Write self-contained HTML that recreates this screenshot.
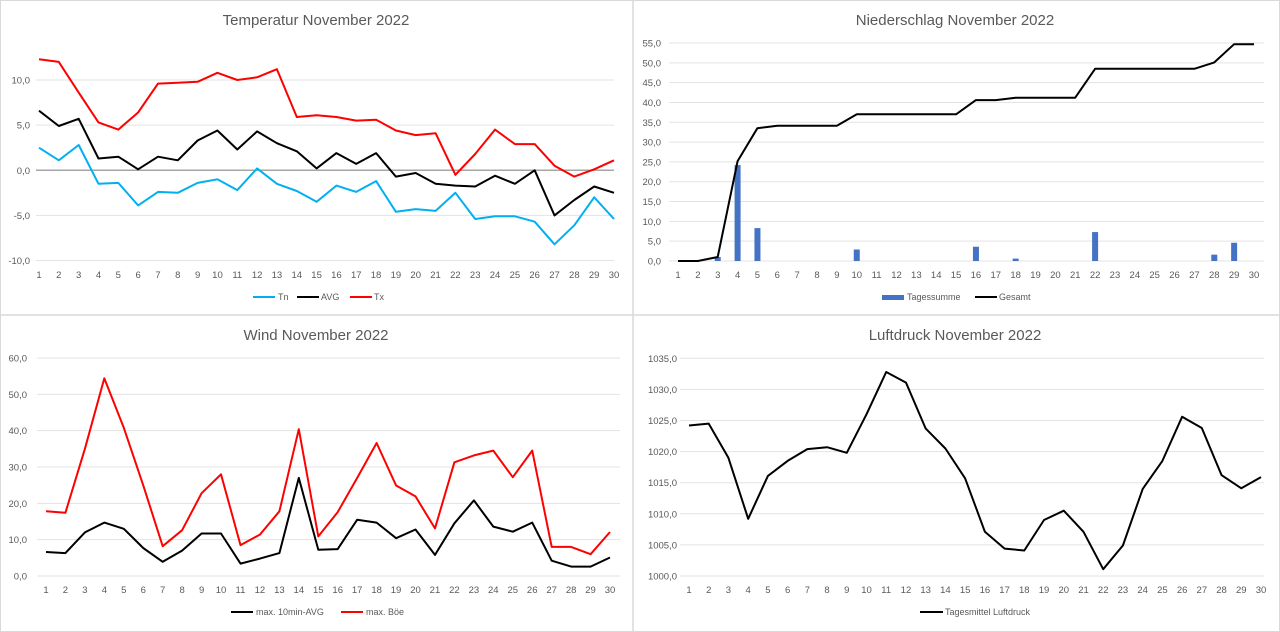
<!DOCTYPE html>
<html><head><meta charset="utf-8">
<style>
html,body{margin:0;padding:0;background:#fff;}
svg{display:block;font-family:"Liberation Sans",sans-serif;}
</style></head>
<body>
<svg id="s" width="1280" height="632" viewBox="0 0 1280 632" xmlns="http://www.w3.org/2000/svg">
<rect x="0" y="0" width="1280" height="632" fill="#fff"/>
<rect x="0.5" y="0.5" width="1279" height="631" fill="none" stroke="#d9d9d9"/>
<line x1="633" y1="0" x2="633" y2="632" stroke="#d9d9d9" stroke-width="1.5"/>
<line x1="0" y1="315" x2="1280" y2="315" stroke="#d9d9d9" stroke-width="1.5"/>
<g id="g"></g>
</svg>
<script>
var g=document.getElementById('g'),out='';
function txt(x,y,t,sz,anc,col){out+='<text x="'+x+'" y="'+y+'" font-size="'+sz+'" fill="'+(col||'#595959')+'" text-anchor="'+(anc||'middle')+'">'+t+'</text>';}
function line(x1,y1,x2,y2,c,w){out+='<line x1="'+x1+'" y1="'+y1+'" x2="'+x2+'" y2="'+y2+'" stroke="'+c+'" stroke-width="'+w+'"/>';}
function poly(pts,c,w){out+='<polyline points="'+pts.join(' ')+'" fill="none" stroke="'+c+'" stroke-width="'+w+'" stroke-linejoin="round"/>';}
function chart(o){
 // o: gx1,gx2,x1,x30,ymin,ymax,y0pix,y1pix,ticks,labx,title,tx,ty
 var sx=function(i){return o.x1+(o.x30-o.x1)*i/29;};
 var sy=function(v){return o.yb+(o.yt-o.yb)*(v-o.vmin)/(o.vmax-o.vmin);};
 o.ticks.forEach(function(v){var y=sy(v);line(o.gx1,y,o.gx2,y,v===0&&o.zero?'#a6a6a6':'#e3e3e3',v===0&&o.zero?1.5:1);
  txt(o.labx,y+3.5,v.toFixed(1).replace('.',','),9.5,'end');});
 for(var i=0;i<30;i++)txt(sx(i),o.xly,String(i+1),9.5);
 txt(o.tx,o.ty,o.title,15,'middle');
 if(o.bars)o.bars.forEach(function(b){var x=sx(b[0]-1);out+='<rect x="'+(x-3)+'" y="'+sy(b[1])+'" width="6" height="'+(sy(0)-sy(b[1]))+'" fill="#4472c4"/>';});
 o.series.forEach(function(s){poly(s.d.map(function(v,i){return sx(i).toFixed(1)+','+sy(v).toFixed(1);}),s.c,2);});
}
chart({gx1:36,gx2:614,x1:39,x30:614,vmin:-10,vmax:10,yb:260.5,yt:80,ticks:[10,5,0,-5,-10],zero:true,labx:30,xly:278,title:'Temperatur November 2022',tx:316,ty:25,
series:[
{c:'#00b0f0',d:[2.5,1.1,2.8,-1.5,-1.4,-3.9,-2.4,-2.5,-1.4,-1.0,-2.2,0.2,-1.5,-2.3,-3.5,-1.7,-2.4,-1.2,-4.6,-4.3,-4.5,-2.5,-5.4,-5.1,-5.1,-5.7,-8.2,-6.1,-3.0,-5.4]},
{c:'#000',d:[6.6,4.9,5.7,1.3,1.5,0.1,1.5,1.1,3.3,4.4,2.3,4.3,3.0,2.1,0.2,1.9,0.7,1.9,-0.7,-0.3,-1.5,-1.7,-1.8,-0.6,-1.5,0.0,-5.0,-3.3,-1.8,-2.5]},
{c:'#ff0000',d:[12.3,12.0,8.6,5.3,4.5,6.4,9.6,9.7,9.8,10.8,10.0,10.3,11.2,5.9,6.1,5.9,5.5,5.6,4.4,3.9,4.1,-0.5,1.8,4.5,2.9,2.9,0.5,-0.7,0.1,1.1]}]});
line(253,297,275,297,'#00b0f0',2);txt(278,300,'Tn',9,'start');
line(297,297,319,297,'#000',2);txt(321,300,'AVG',9,'start');
line(350,297,372,297,'#ff0000',2);txt(374,300,'Tx',9,'start');

chart({gx1:669,gx2:1264,x1:678,x30:1254,vmin:0,vmax:55,yb:261,yt:43,ticks:[55,50,45,40,35,30,25,20,15,10,5,0],labx:661,xly:278,title:'Niederschlag November 2022',tx:955,ty:25,
bars:[[3,1.0],[4,24.2],[5,8.3],[10,2.9],[16,3.6],[18,0.6],[22,7.3],[28,1.6],[29,4.6]],
series:[{c:'#000',d:[0,0,1.0,25.2,33.5,34.1,34.1,34.1,34.1,37,37,37,37,37,37,40.6,40.6,41.2,41.2,41.2,41.2,48.5,48.5,48.5,48.5,48.5,48.5,50.1,54.7,54.7]}]});
out+='<rect x="882" y="295" width="22" height="5" fill="#4472c4"/>';txt(907,300,'Tagessumme',9,'start');
line(975,297,997,297,'#000',2);txt(999,300,'Gesamt',9,'start');

chart({gx1:37,gx2:620,x1:46,x30:610,vmin:0,vmax:60,yb:576,yt:358,ticks:[60,50,40,30,20,10,0],labx:27,xly:593,title:'Wind November 2022',tx:316,ty:340,
series:[
{c:'#000',d:[6.6,6.3,12,14.7,13,7.7,3.9,7,11.7,11.7,3.4,4.8,6.3,27,7.2,7.4,15.5,14.7,10.4,12.8,5.8,14.5,20.8,13.6,12.2,14.7,4.2,2.6,2.6,5.1]},
{c:'#ff0000',d:[17.8,17.4,35,54.4,40.8,25,8.2,12.6,22.8,28,8.5,11.4,17.8,40.4,10.9,17.6,27,36.6,24.9,21.9,13.1,31.3,33.2,34.5,27.2,34.5,8,8,6,12.1]}]});
line(231,612,253,612,'#000',2);txt(256,615,'max. 10min-AVG',9,'start');
line(341,612,363,612,'#ff0000',2);txt(366,615,'max. Böe',9,'start');

chart({gx1:680,gx2:1264,x1:689,x30:1261,vmin:1000,vmax:1035,yb:576,yt:358.3,ticks:[1035,1030,1025,1020,1015,1010,1005,1000],labx:677,xly:593,title:'Luftdruck November 2022',tx:955,ty:340,
series:[{c:'#000',d:[1024.2,1024.5,1019,1009.2,1016.1,1018.5,1020.4,1020.7,1019.8,1026,1032.8,1031.1,1023.7,1020.5,1015.7,1007.1,1004.4,1004.1,1009,1010.5,1007.1,1001.1,1004.9,1014,1018.5,1025.6,1023.8,1016.2,1014.1,1015.9]}]});
line(920,612,943,612,'#000',2);txt(945,615,'Tagesmittel Luftdruck',9,'start');
g.innerHTML=out;
</script>
</body></html>
